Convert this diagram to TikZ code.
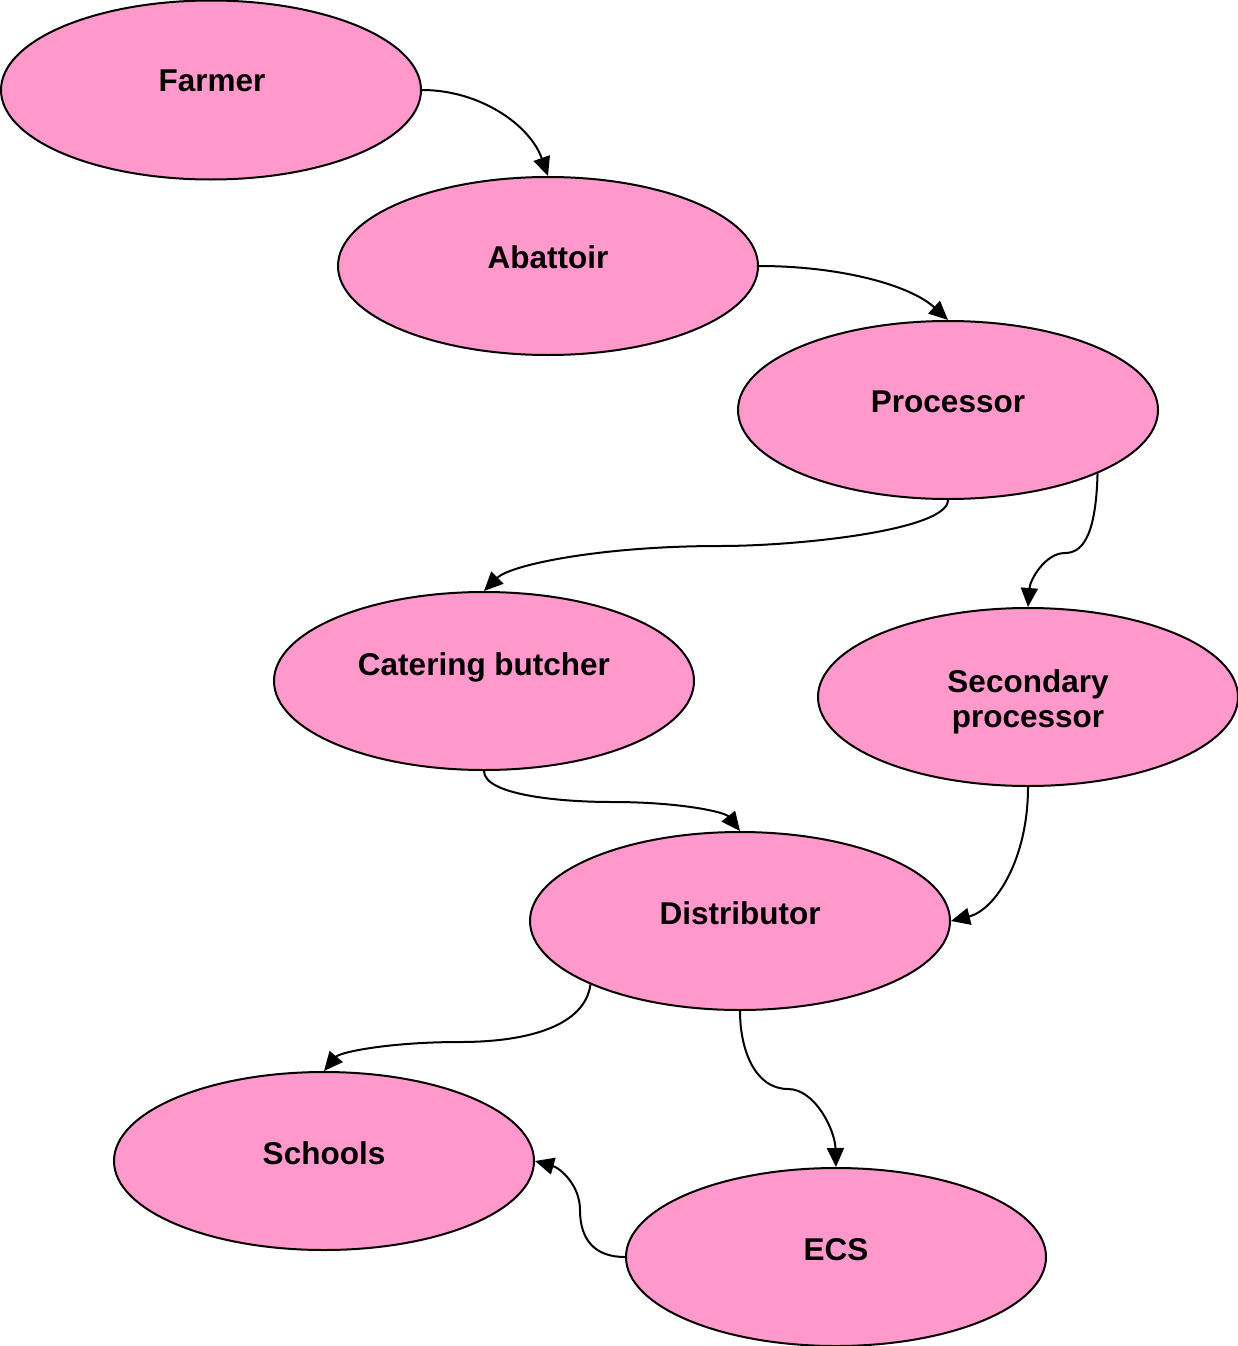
\documentclass[tikz,border=0pt]{standalone}
\usepackage{fontspec}
\setmainfont{Liberation Sans}
\usetikzlibrary{shapes.geometric,arrows.meta}
\definecolor{pinkfill}{HTML}{FF99CC}
\tikzset{
  oval/.style={ellipse,draw=black,line width=2pt,fill=pinkfill,minimum width=420pt,minimum height=178pt,inner sep=0pt},
  lbl/.style={anchor=base,font=\fontsize{31.5}{36}\selectfont\bfseries,align=center,inner sep=0pt},
  flow/.style={line width=2pt,-{Triangle[length=19pt,width=17pt]}}
}
\begin{document}
\begin{tikzpicture}[x=1pt,y=-1pt]
\useasboundingbox (0,0) rectangle (1238,1346);
\node[oval,minimum height=179pt] (farmer) at (211,90) {};
\node[oval] (abattoir) at (548,266) {};
\node[oval] (processor) at (948,410) {};
\node[oval] (catering) at (484,681) {};
\node[oval] (secondary) at (1028,697) {};
\node[oval] (distributor) at (740,921) {};
\node[oval] (schools) at (324,1161) {};
\node[oval] (ecs) at (836,1257) {};
\node[lbl] (tfarmer) at (212,92) {Farmer};
\node[lbl] (tabattoir) at (548,268) {Abattoir};
\node[lbl] (tprocessor) at (948,412) {Processor};
\node[lbl] (tcatering) at (484,675) {Catering butcher};
\node[lbl] (tsecondary) at (1028,692) {Secondary};
\node[lbl] (tsecondary2) at (1028,727) {processor};
\node[lbl] (tdistributor) at (740,924) {Distributor};
\node[lbl] (tschools) at (324,1164) {Schools};
\node[lbl] (tecs) at (836,1260) {ECS};
\coordinate (m1) at (720,546);
\coordinate (m2) at (1065,553);
\coordinate (m3) at (612,802);
\coordinate (m4) at (460,1042);
\coordinate (m5) at (788,1089);
\coordinate (m6) at (580,1210);
\draw[flow] (farmer.east) .. controls (480,90) and (530,125) .. (abattoir.north);
\draw[flow] (abattoir.east) .. controls (840,266) and (910,285) .. (processor.north);
\draw[flow] (processor.south) .. controls (948,530) and (800,546) .. (m1) .. controls (600,546) and (510,565) .. (catering.north);
\draw[flow] (processor.-23) .. controls (1096,530) and (1085,553) .. (m2) .. controls (1045,553) and (1030,580) .. (secondary.north);
\draw[flow] (catering.south) .. controls (484,795) and (560,802) .. (m3) .. controls (680,802) and (725,812) .. (distributor.north);
\draw[flow] (secondary.south) .. controls (1028,860) and (995,910) .. (distributor.east);
\draw[flow] (distributor.-157) .. controls (585,1025) and (530,1042) .. (m4) .. controls (390,1042) and (340,1052) .. (schools.north);
\draw[flow] (distributor.south) .. controls (740,1050) and (755,1089) .. (m5) .. controls (815,1089) and (835,1130) .. (ecs.north);
\draw[flow] (ecs.west) .. controls (595,1257) and (580,1240) .. (m6) .. controls (580,1185) and (560,1168) .. (schools.east);
\end{tikzpicture}
\end{document}
